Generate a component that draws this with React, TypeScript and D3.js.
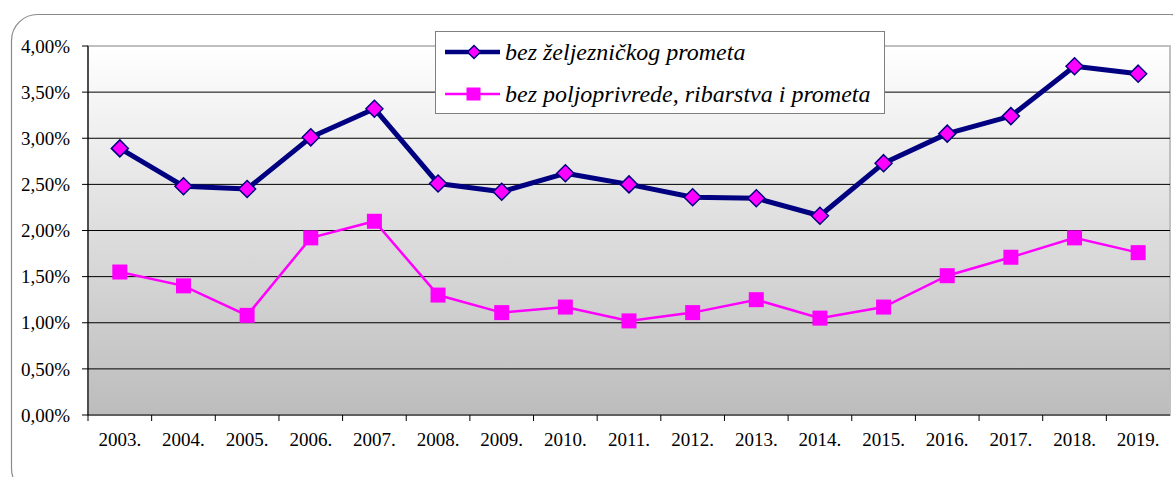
import React from "react";
import * as d3 from "d3";

const years = ["2003.", "2004.", "2005.", "2006.", "2007.", "2008.", "2009.", "2010.", "2011.", "2012.", "2013.", "2014.", "2015.", "2016.", "2017.", "2018.", "2019."];
const seriesRail = [2.89, 2.48, 2.45, 3.01, 3.32, 2.51, 2.42, 2.62, 2.50, 2.36, 2.35, 2.16, 2.73, 3.05, 3.24, 3.78, 3.70];
const seriesAgri = [1.55, 1.40, 1.08, 1.92, 2.10, 1.30, 1.11, 1.17, 1.02, 1.11, 1.25, 1.05, 1.17, 1.51, 1.71, 1.92, 1.76];
const yTicks = [0, 0.5, 1, 1.5, 2, 2.5, 3, 3.5, 4];
const legendLabels = ["bez željezničkog prometa", "bez poljoprivrede, ribarstva i prometa"];

export default function App() {
  const W = 1173, H = 477;
  const left = 88, right = 1170, top = 46, bottom = 415;
  const x = d3.scaleBand<string>().domain(years).range([left, right]);
  const y = d3.scaleLinear().domain([0, 4]).range([bottom, top]);
  const cx = (i: number) => (x(years[i]) as number) + x.bandwidth() / 2;
  const line = d3.line<number>().x((_, i) => cx(i)).y((d) => y(d));
  const fmt = (v: number) => v.toFixed(2).replace(".", ",") + "%";
  const tf: React.CSSProperties = { fontFamily: "Liberation Serif, DejaVu Serif, serif" };
  const ds = 8.5;
  const sq = 7.5;

  return (
    <svg width={W} height={H} style={{ position: "absolute", left: 0, top: 0 }}>
      <defs>
        <linearGradient id="bg" x1="0" y1="0" x2="0" y2="1">
          <stop offset="0" stopColor="#ffffff" />
          <stop offset="1" stopColor="#bcbcbc" />
        </linearGradient>
      </defs>
      <rect x={0} y={0} width={W} height={H} fill="#ffffff" />
      <rect x={11.5} y={14.5} width={1185} height={480} rx={26} ry={26} fill="#ffffff" stroke="#8a8a8a" strokeWidth={1.2} />
      <rect x={left} y={top} width={right - left} height={bottom - top} fill="url(#bg)" stroke="#c0c0c0" strokeWidth={2} />
      {yTicks.map((t) => (
        <g key={t}>
          {t > 0 && t < 4 && <line x1={left} x2={right} y1={y(t)} y2={y(t)} stroke="#000" strokeWidth={1} />}
          <line x1={left - 6} x2={left} y1={y(t)} y2={y(t)} stroke="#000" strokeWidth={1} />
          <text x={70} y={y(t)} dy="0.35em" textAnchor="end" fontSize={19} style={tf}>{fmt(t)}</text>
        </g>
      ))}
      <line x1={left} x2={left} y1={top} y2={bottom} stroke="#000" strokeWidth={1.2} />
      <line x1={left} x2={right} y1={bottom} y2={bottom} stroke="#000" strokeWidth={1.2} />
      {years.map((yr, i) => (
        <g key={yr}>
          <line x1={x(yr) as number} x2={x(yr) as number} y1={bottom} y2={bottom + 6} stroke="#000" strokeWidth={1} />
          <text x={cx(i)} y={446} textAnchor="middle" fontSize={19} style={tf}>{yr}</text>
        </g>
      ))}
      <path d={line(seriesAgri) as string} fill="none" stroke="#ff00ff" strokeWidth={2.5} />
      {seriesAgri.map((v, i) => (
        <rect key={i} x={cx(i) - sq} y={y(v) - sq} width={sq * 2} height={sq * 2} fill="#ff00ff" />
      ))}
      <path d={line(seriesRail) as string} fill="none" stroke="#000080" strokeWidth={5} strokeLinejoin="round" />
      {seriesRail.map((v, i) => (
        <path key={i} d={`M${cx(i)},${y(v) - ds} L${cx(i) + ds},${y(v)} L${cx(i)},${y(v) + ds} L${cx(i) - ds},${y(v)} Z`} fill="#ff00ff" stroke="#000080" strokeWidth={1.5} />
      ))}
      <g>
        <rect x={435.5} y={31.5} width={449} height={82} fill="#ffffff" stroke="#808080" strokeWidth={1} />
        <line x1={445} x2={500} y1={52} y2={52} stroke="#000080" strokeWidth={4.5} />
        <path d={`M474,${52 - 6.5} L480.5,52 L474,${52 + 6.5} L467.5,52 Z`} fill="#ff00ff" stroke="#000080" strokeWidth={1.5} />
        <text x={505} y={52} dy="0.35em" fontSize={24} fontStyle="italic" style={tf}>{legendLabels[0]}</text>
        <line x1={445} x2={500} y1={94} y2={94} stroke="#ff00ff" strokeWidth={2.5} />
        <rect x={466.5} y={87.5} width={14} height={13} fill="#ff00ff" />
        <text x={505} y={94} dy="0.35em" fontSize={24} fontStyle="italic" style={tf}>{legendLabels[1]}</text>
      </g>
    </svg>
  );
}
